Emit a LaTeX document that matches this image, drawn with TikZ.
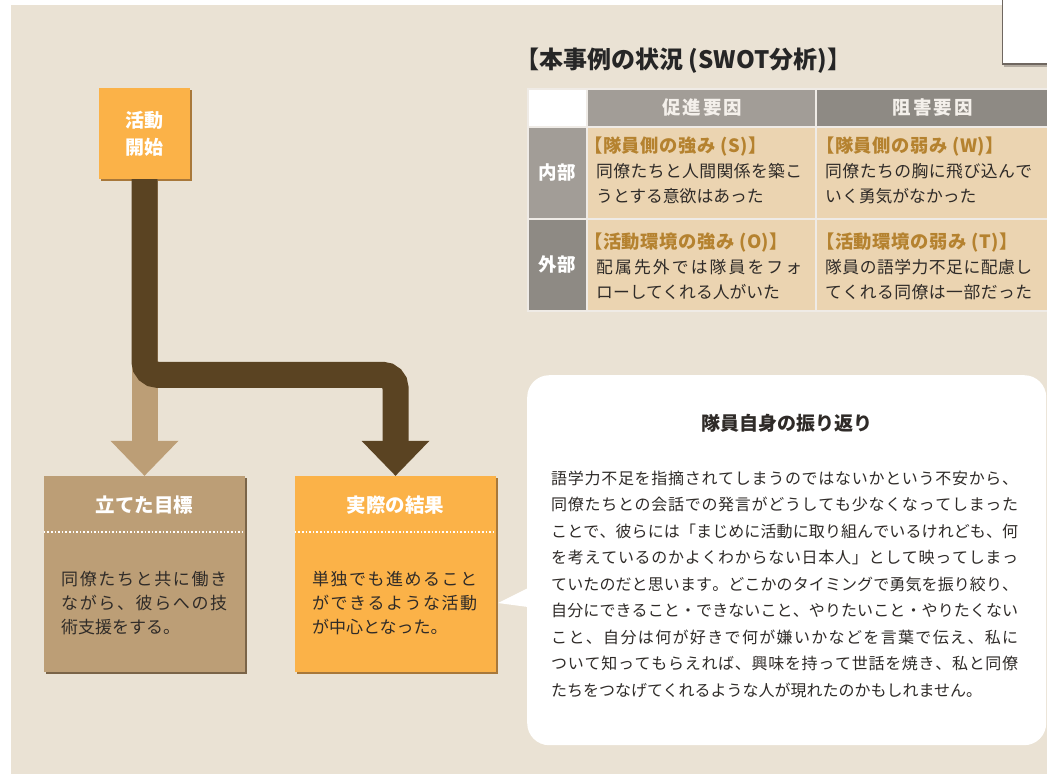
\documentclass[tikz,border=0pt]{standalone}
\usepackage{fontspec}
\setmainfont{Noto Sans CJK JP}
\usetikzlibrary{calc}
\definecolor{bgc}{HTML}{EAE2D4}
\definecolor{tanc}{HTML}{BC9E76}
\definecolor{darkc}{HTML}{5A4322}
\definecolor{orangec}{HTML}{FBB248}
\definecolor{tanshadow}{HTML}{7A6448}
\definecolor{orshadow}{HTML}{A8783A}
\definecolor{textc}{HTML}{2F2B28}
\definecolor{headc}{HTML}{B5822F}
\definecolor{grayA}{HTML}{A29D97}
\definecolor{grayB}{HTML}{8E8A84}
\definecolor{cellc}{HTML}{EBD4B1}
\definecolor{cellline}{HTML}{EFEBE6}
\definecolor{hdtext}{HTML}{F4F0EB}
\definecolor{frame}{HTML}{6F6760}
\makeatletter
\def\spr@first#1{#1\spr@rest}
\def\spr@rest#1{\ifx\relax#1\else\hskip 0pt plus 1fil minus 1pt\relax#1\expandafter\spr@rest\fi}
\newcommand\just[2]{\hbox to #1{\spr@first#2\relax}}
\makeatother
\begin{document}
\begin{tikzpicture}[x=1pt,y=-1pt,
  txt/.style={inner sep=0pt, text=textc},
  bline/.style={txt, anchor=west, font=\fontsize{16}{20}\selectfont},
  cline/.style={txt, anchor=west, font=\fontsize{16.8}{20}\selectfont},
  chead/.style={inner sep=0pt, anchor=west, text=headc, font=\bfseries\fontsize{18.3}{20}\selectfont\addfontfeatures{LetterSpace=3}},
  xline/.style={txt, anchor=west, font=\fontsize{17}{20}\selectfont},
  cell/.style={draw=cellline, line width=1.5pt, anchor=north west, inner sep=0pt},
  hlabel/.style={inner sep=0pt, text=hdtext, font=\bfseries\fontsize{18.5}{20}\selectfont\addfontfeatures{LetterSpace=11}},
  rlabel/.style={inner sep=0pt, text=white, font=\bfseries\fontsize{18.5}{20}\selectfont},
  bigbox/.style={minimum width=201pt, minimum height=196pt, inner sep=0pt},
  boxtitle/.style={inner sep=0pt, text=white, font=\bfseries\fontsize{19.5}{20}\selectfont},
  dotline/.style={white, line width=1.6pt, dash pattern=on 1.6pt off 2pt},
  shaft/.style={line width=26pt, line cap=butt}]
\useasboundingbox (0,0) rectangle (1047,774);
\fill[white] (0,0) rectangle (1047,774);
\fill[bgc] (11,5) rectangle (1047,774);

% top-right frame
\fill[white] (1002,-2) rectangle (1049,64);
\fill[frame!45!bgc] (1004,64) rectangle (1049,67);
\draw[frame, line width=1.3pt] (1002.6,-2) -- (1002.6,64) -- (1049,64);

% title
\node[txt, anchor=west, text=black!85, font=\bfseries\fontsize{24}{24}\selectfont] (title) at (515,61) {【本事例の状況 (SWOT分析)】};

% table
\node[cell, fill=white, minimum width=59pt, minimum height=38pt] (blank) at (527,88) {};
\node[cell, fill=grayA, minimum width=229pt, minimum height=38pt] (h1) at (586,88) {};
\node[cell, fill=grayB, minimum width=232pt, minimum height=38pt] (h2) at (815,88) {};
\node[cell, fill=grayA, minimum width=59pt, minimum height=92pt] (r1) at (527,126) {};
\node[cell, fill=grayB, minimum width=59pt, minimum height=92pt] (r2) at (527,218) {};
\node[cell, fill=cellc, minimum width=229pt, minimum height=92pt] (c11) at (586,126) {};
\node[cell, fill=cellc, minimum width=232pt, minimum height=92pt] (c12) at (815,126) {};
\node[cell, fill=cellc, minimum width=229pt, minimum height=92pt] (c21) at (586,218) {};
\node[cell, fill=cellc, minimum width=232pt, minimum height=92pt] (c22) at (815,218) {};
\node[hlabel] (h1t) at ([xshift=1pt]h1.center) {促進要因};
\node[hlabel] (h2t) at ([xshift=1pt]h2.center) {阻害要因};
\node[rlabel] (r1t) at (r1.center) {内部};
\node[rlabel] (r2t) at (r2.center) {外部};

\node[chead] (c11a) at (584,147) {【隊員側の強み (S)】};
\node[cline] (c11b) at (596,171.5) {\just{206pt}{同僚たちと人間関係を築こ}};
\node[cline] (c11c) at (596,196) {うとする意欲はあった};
\node[chead] (c12a) at (816,147) {【隊員側の弱み (W)】};
\node[cline] (c12b) at (825,171.5) {\just{207pt}{同僚たちの胸に飛び込んで}};
\node[cline] (c12c) at (825,196) {いく勇気がなかった};
\node[chead] (c21a) at (584,243) {【活動環境の強み (O)】};
\node[cline] (c21b) at (596,267.5) {\just{206pt}{配属先外では隊員をフォ}};
\node[cline] (c21c) at (596,292) {ローしてくれる人がいた};
\node[chead] (c22a) at (816,243) {【活動環境の弱み (T)】};
\node[cline] (c22b) at (825,267.5) {\just{207pt}{隊員の語学力不足に配慮し}};
\node[cline] (c22c) at (825,292) {\just{207pt}{てくれる同僚は一部だった}};

% start box
\fill[orshadow] (100.5,89.5) rectangle (191.5,180.5);
\node[fill=orangec, minimum width=91pt, minimum height=91pt, inner sep=0pt,
      text=white, align=center, font=\bfseries\fontsize{19}{27}\selectfont] (start) at (144.5,133.5) {活動\\開始};

% result boxes
\fill[tanshadow] (46,478) rectangle (247,673.5);
\node[bigbox, fill=tanc] (goal) at (144.5,574) {};
\fill[orshadow] (297,478) rectangle (498,673.5);
\node[bigbox, fill=orangec] (result) at (395.5,574) {};

\node[boxtitle] (goalT) at (144.5,505) {立てた目標};
\node[boxtitle] (resT) at (395.5,505) {実際の結果};
\draw[dotline] (goal.west |- 0,532) -- (goal.east |- 0,532);
\draw[dotline] (result.west |- 0,532) -- (result.east |- 0,532);

\node[xline] (g1) at (61,579) {\just{166pt}{同僚たちと共に働き}};
\node[xline] (g2) at (61,603) {\just{166pt}{ながら、彼らへの技}};
\node[xline] (g3) at (61,627) {術支援をする。};
\node[xline] (s1) at (312,579) {\just{165pt}{単独でも進めること}};
\node[xline] (s2) at (312,603) {\just{165pt}{ができるような活動}};
\node[xline] (s3) at (312,627) {が中心となった。};

% arrows
\draw[shaft, tanc] (start.south) -- ($(goal.north)+(0,-34.5)$);
\fill[tanc] ($(goal.north)+(-34,-35)$) -- ($(goal.north)+(34,-35)$) -- (goal.north) -- cycle;
\draw[shaft, darkc, rounded corners=13pt] (start.south) |- ($(result.north)+(0,-101)$) -- ($(result.north)+(0,-34.5)$);
\fill[darkc] ($(result.north)+(-34,-35)$) -- ($(result.north)+(34,-35)$) -- (result.north) -- cycle;

% speech bubble
\node[fill=white, rounded corners=22pt, minimum width=519pt, minimum height=370pt, inner sep=0pt, anchor=north west] (bubble) at (527,375) {};
\fill[white] (528,588) -- (498,603) -- (528,607) -- cycle;
\node[txt, font=\bfseries\fontsize{19}{20}\selectfont] (btitle) at (787,423) {隊員自身の振り返り};
\node[bline] (b1) at (551,478) {\just{467pt}{語学力不足を指摘されてしまうのではないかという不安から、}};
\node[bline] (b2) at (551,504.5) {\just{467pt}{同僚たちとの会話での発言がどうしても少なくなってしまった}};
\node[bline] (b3) at (551,531) {\just{467pt}{ことで、彼らには「まじめに活動に取り組んでいるけれども、何}};
\node[bline] (b4) at (551,557.5) {\just{467pt}{を考えているのかよくわからない日本人」として映ってしまっ}};
\node[bline] (b5) at (551,584) {\just{467pt}{ていたのだと思います。どこかのタイミングで勇気を振り絞り、}};
\node[bline] (b6) at (551,610.5) {\just{467pt}{自分にできること・できないこと、やりたいこと・やりたくない}};
\node[bline] (b7) at (551,637) {\just{467pt}{こと、自分は何が好きで何が嫌いかなどを言葉で伝え、私に}};
\node[bline] (b8) at (551,663.5) {\just{467pt}{ついて知ってもらえれば、興味を持って世話を焼き、私と同僚}};
\node[bline] (b9) at (551,690) {たちをつなげてくれるような人が現れたのかもしれません。};
\end{tikzpicture}
\end{document}
